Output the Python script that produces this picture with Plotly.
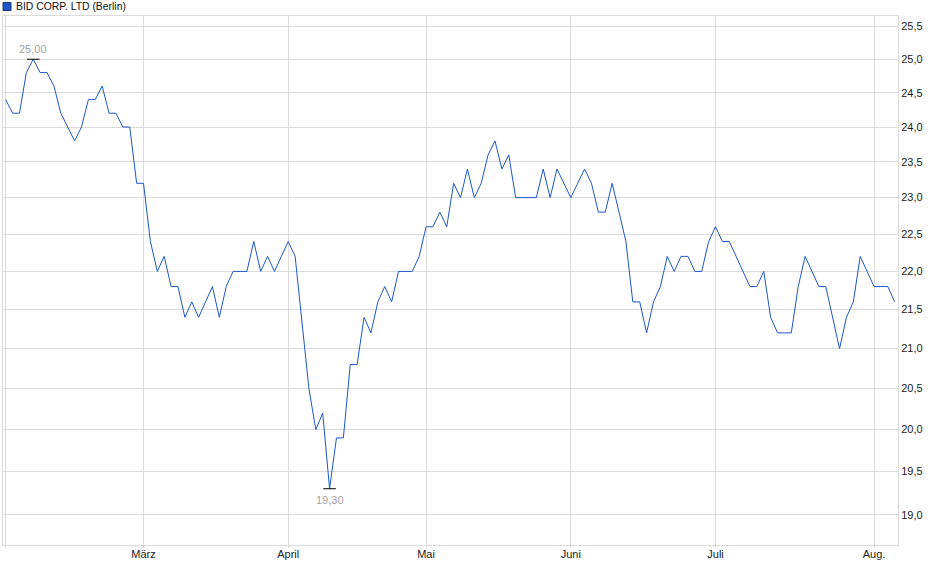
import math
import pandas as pd
import plotly.graph_objects as go

# trading days (Berlin), Feb 3 - Aug 6 2025
holidays = ["2025-04-18", "2025-04-21", "2025-05-01"]
days = pd.bdate_range("2025-02-03", "2025-08-06")
dates = [d.strftime("%Y-%m-%d") for d in days if d.strftime("%Y-%m-%d") not in holidays]

price_feb = [24.4, 24.2, 24.2, 24.8, 25.0, 24.8, 24.8, 24.6, 24.2, 24.0,
             23.8, 24.0, 24.4, 24.4, 24.6, 24.2, 24.2, 24.0, 24.0, 23.2]
price_mar = [23.2, 22.4, 22.0, 22.2, 21.8, 21.8, 21.4, 21.6, 21.4, 21.6, 21.8,
             21.4, 21.8, 22.0, 22.0, 22.0, 22.4, 22.0, 22.2, 22.0, 22.2]
price_apr = [22.4, 22.2, 21.3, 20.5, 20.0, 20.2, 19.3, 19.9, 19.9, 20.8,
             20.8, 21.4, 21.2, 21.6, 21.8, 21.6, 22.0, 22.0, 22.0, 22.2]
price_may = [22.6, 22.6, 22.8, 22.6, 23.2, 23.0, 23.4, 23.0, 23.2, 23.6, 23.8,
             23.4, 23.6, 23.0, 23.0, 23.0, 23.0, 23.4, 23.0, 23.4, 23.2]
price_jun = [23.0, 23.2, 23.4, 23.2, 22.8, 22.8, 23.2, 22.8, 22.4, 21.6, 21.6,
             21.2, 21.6, 21.8, 22.2, 22.0, 22.2, 22.2, 22.0, 22.0, 22.4]
price_jul = [22.6, 22.4, 22.4, 22.2, 22.0, 21.8, 21.8, 22.0, 21.4, 21.2, 21.2, 21.2,
             21.8, 22.2, 22.0, 21.8, 21.8, 21.4, 21.0, 21.4, 21.6, 22.2, 22.0]
price_aug = [21.8, 21.8, 21.8, 21.6]
prices = price_feb + price_mar + price_apr + price_may + price_jun + price_jul + price_aug

month_starts = ["2025-02-03", "2025-03-03", "2025-04-01", "2025-05-02",
                "2025-06-02", "2025-07-01", "2025-08-01"]
month_labels = ["", "März", "April", "Mai", "Juni", "Juli", "Aug."]
y_ticks = [19.0, 19.5, 20.0, 20.5, 21.0, 21.5, 22.0, 22.5, 23.0, 23.5, 24.0, 24.5, 25.0, 25.5]

name = "BID CORP. LTD (Berlin)"
blue = "#1c57c7"
grid = "#dadada"
font = "Liberation Sans, Arial, sans-serif"

hi = prices.index(max(prices))
lo = prices.index(min(prices))

fig = go.Figure()
fig.add_trace(go.Scatter(x=dates, y=prices, mode="lines",
                         line=dict(color=blue, width=1), showlegend=False))
# small black marks at high / low
fig.add_trace(go.Scatter(x=[dates[hi], dates[lo]], y=[prices[hi], prices[lo]], mode="markers",
                         marker=dict(symbol="line-ew", size=9, line=dict(color="black", width=1)),
                         showlegend=False, hoverinfo="skip"))

# category axis -> x is the category number, log axis -> y is log10
fig.add_annotation(x=hi, y=math.log10(prices[hi]), text=f"{prices[hi]:.2f}".replace(".", ","),
                   showarrow=False, yshift=10, font=dict(family=font, size=11, color="#a2a2a2"))
fig.add_annotation(x=lo, y=math.log10(prices[lo]), text=f"{prices[lo]:.2f}".replace(".", ","),
                   showarrow=False, yshift=-11, font=dict(family=font, size=11, color="#a2a2a2"))

# legend box + name
fig.add_shape(type="rect", xref="paper", yref="paper", xsizemode="pixel", ysizemode="pixel",
              xanchor=0, yanchor=1, x0=0, x1=8, y0=5.5, y1=13.5,
              fillcolor=blue, line=dict(color="#1a3a7a", width=1))
fig.add_annotation(xref="paper", yref="paper", x=0, y=1, xshift=11, yshift=9.5,
                   xanchor="left", yanchor="middle", showarrow=False, text=name,
                   font=dict(family=font, size=10.4, color="#111111"))

fig.update_xaxes(type="category", range=[-0.39, 129.48], tickvals=month_starts, ticktext=month_labels,
                 showgrid=True, gridcolor=grid, gridwidth=1, showline=True, linecolor=grid, mirror=True,
                 ticks="outside", ticklen=2, tickcolor=grid, zeroline=False, ticklabelstandoff=-3,
                 tickfont=dict(family=font, size=11, color="#222222"))
fig.update_yaxes(type="log", side="right", range=[1.27083, 1.40926], tickvals=y_ticks, tickformat=".1f",
                 showgrid=True, gridcolor=grid, gridwidth=1, showline=True, linecolor=grid, mirror=True,
                 ticks="", zeroline=False, tickfont=dict(family=font, size=11, color="#222222"))

fig.update_layout(width=940, height=579, margin=dict(l=3, r=42, t=16, b=34),
                  paper_bgcolor="white", plot_bgcolor="white", separators=",.",
                  font=dict(family=font), hovermode="x")

fig.write_html("out.html", config={"displayModeBar": False},
               post_script="document.body.style.margin='0';")
